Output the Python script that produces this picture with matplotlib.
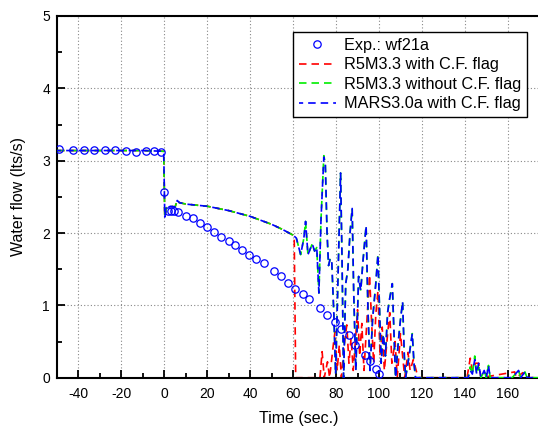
import matplotlib
matplotlib.use("Agg")
import matplotlib.pyplot as plt
from matplotlib.ticker import MultipleLocator

plt.rcParams['font.family'] = ['Liberation Sans', 'DejaVu Sans']
plt.rcParams['axes.unicode_minus'] = False

# Experimental data
exp_t = [-49, -42.4, -37.6, -32.8, -27.8, -23, -17.9, -13.2, -8.5, -5, -1.5, 0,
         1.9, 3.3, 4.7, 6.4, 10.1, 13.2, 16.6, 19.7, 23.2, 26.3, 30, 33.1, 36.2,
         39.3, 42.8, 46.2, 51.2, 54.5, 57.8, 61.1, 64.4, 67.5, 72.3, 75.9, 79.3,
         82.4, 85.8, 88.9, 93.7, 96, 98.5, 100]
exp_y = [3.16, 3.15, 3.15, 3.15, 3.15, 3.15, 3.14, 3.12, 3.14, 3.14, 3.12, 2.57,
         2.31, 2.31, 2.31, 2.29, 2.24, 2.21, 2.14, 2.08, 2.015, 1.95, 1.89, 1.83,
         1.76, 1.70, 1.64, 1.58, 1.48, 1.41, 1.31, 1.23, 1.16, 1.09, 0.96, 0.86,
         0.77, 0.68, 0.59, 0.45, 0.31, 0.23, 0.12, 0.05]

# Common early transient shared by all codes
common_t = [-50, -40, -30, -20, -10, -0.3, 0, 0.2, 1, 3, 5, 6, 7, 10, 20, 30, 40,
            50, 55, 60]
common_y = [3.14, 3.14, 3.14, 3.14, 3.14, 3.13, 2.6, 2.22, 2.35, 2.37, 2.36, 2.45,
            2.42, 2.40, 2.37, 2.31, 2.23, 2.12, 2.05, 1.97]

# R5M3.3 with C.F. flag (after t = 60 s)
red_t = [60.5, 61.2, 72.5, 73.5, 74.5, 76, 77, 78.5, 79.5, 80.5, 81.5, 82.5, 84,
         85, 86, 87, 88, 89, 90, 91, 92, 93, 94, 95.6, 96.5, 97.5, 98.5, 99.5,
         100.5, 101.5, 102.5, 104, 105, 106, 107.5, 108.5, 110, 111, 112, 113.5,
         114.5, 116, 117.5, 118.5, 141, 142.5, 143.5, 145, 146.4, 147.5, 163.2,
         164, 167, 168, 175]
red_y = [1.95, 0.0, 0.0, 0.36, 0.0, 0.22, 0.0, 0.4, 0.64, 0.1, 0.45, 0.0, 0.5,
         0.73, 0.2, 0.55, 0.1, 0.5, 0.94, 0.3, 0.75, 0.1, 0.6, 1.42, 0.8, 0.2,
         0.87, 1.2, 0.3, 0.7, 0.1, 0.6, 0.9, 0.2, 0.5, 0.0, 0.61, 0.3, 0.0, 0.35,
         0.1, 0.25, 0.08, 0.0, 0.0, 0.27, 0.1, 0.2, 0.2, 0.0, 0.08, 0.0, 0.07,
         0.0, 0.0]

# R5M3.3 without C.F. flag (after t = 60 s)
green_t = [61.5, 63.5, 65, 65.8, 66.9, 68.9, 70, 71, 72, 73, 74.3, 75, 75.8, 76.5,
           77.3, 78, 79, 79.8, 81, 82.1, 82.8, 83.5, 84.5, 85.5, 86.5, 87.5, 88.2,
           89.2, 90.5, 91.5, 92.5, 94, 94.8, 95.8, 97, 98.5, 99.5, 100.3, 101,
           102, 103, 104, 105, 106.2, 107, 107.7, 109, 110, 111, 111.8, 112.4,
           114, 115.5, 116.3, 117, 141.5, 142.5, 143.5, 144.6, 145.5, 146.4,
           147.5, 149, 150, 151, 151.8, 162, 163.5, 165, 166, 168, 169, 175]
green_y = [1.93, 1.70, 1.93, 2.16, 1.70, 1.85, 1.75, 1.80, 1.17, 2.2, 3.07, 2.95,
           2.0, 1.55, 1.65, 1.6, 0.85, 0.05, 1.5, 2.83, 1.6, 0.0, 1.3, 1.5, 2.0,
           2.34, 1.2, 0.1, 1.4, 1.2, 1.6, 2.10, 1.0, 0.1, 0.8, 1.3, 1.7, 0.9, 0.2,
           0.6, 0.3, 0.9, 1.1, 1.3, 0.6, 0.0, 0.5, 0.8, 1.05, 0.3, 0.0, 0.3, 0.61,
           0.2, 0.0, 0.0, 0.15, 0.05, 0.30, 0.05, 0.15, 0.0, 0.1, 0.0, 0.17, 0.0,
           0.0, 0.05, 0.1, 0.0, 0.08, 0.0, 0.0]

# MARS3.0a with C.F. flag (after t = 60 s)
blue_t = list(green_t)
blue_y = [1.93, 1.70, 1.93, 2.16, 1.70, 1.85, 1.75, 1.80, 1.17, 2.2, 3.05, 2.95,
          2.0, 1.55, 1.65, 1.6, 0.85, 0.05, 1.5, 2.83, 1.6, 0.0, 1.3, 1.5, 2.0,
          2.34, 1.2, 0.1, 1.4, 1.2, 1.6, 2.10, 1.0, 0.1, 0.8, 1.3, 1.7, 0.9, 0.2,
          0.6, 0.3, 0.9, 1.1, 1.3, 0.6, 0.0, 0.5, 0.8, 1.05, 0.3, 0.0, 0.3, 0.61,
          0.2, 0.0, 0.0, 0.1, 0.05, 0.25, 0.05, 0.2, 0.0, 0.1, 0.0, 0.17, 0.0,
          0.0, 0.05, 0.1, 0.0, 0.08, 0.0, 0.0]

x_ticks = [-40, -20, 0, 20, 40, 60, 80, 100, 120, 140, 160]
y_ticks = [0, 1, 2, 3, 4, 5]

fig = plt.figure(figsize=(5.38, 4.30), dpi=100)
ax = fig.add_axes([57 / 538, 52.3 / 430, 483 / 538, 361.7 / 430])

dash = (4.5, 3.0)
lw = 1.2
ax.plot(common_t + red_t, common_y + red_y, color='#ff0000', lw=lw,
        linestyle=(0, dash), label='R5M3.3 with C.F. flag', zorder=2)
ax.plot(common_t + green_t, common_y + green_y, color='#00ee00', lw=lw,
        linestyle=(0, dash), label='R5M3.3 without C.F. flag', zorder=3)
ax.plot(common_t + blue_t, common_y + blue_y, color='#0000ff', lw=lw,
        linestyle=(2.0, dash), label='MARS3.0a with C.F. flag', zorder=4)
ax.plot(exp_t, exp_y, linestyle='none', marker='o', ms=5.3, mfc='none',
        mec='#0000ff', mew=0.9, label='Exp.: wf21a', zorder=5)

ax.set_xlim(-50, 175)
ax.set_ylim(0, 5)
ax.set_xticks(x_ticks)
ax.set_yticks(y_ticks)
ax.xaxis.set_minor_locator(MultipleLocator(10))
ax.yaxis.set_minor_locator(MultipleLocator(0.5))
ax.tick_params(which='major', direction='in', length=6, width=1.3,
               labelsize=10, pad=7)
ax.tick_params(which='minor', direction='in', length=3.5, width=1.3)
ax.tick_params(axis='y', which='major', pad=5)
ax.grid(True, which='major', linestyle=(0, (1, 2)), color='#888888', lw=0.8)
for s in ax.spines.values():
    s.set_linewidth(1.5)

ax.set_xlabel('Time (sec.)', fontsize=11.5, labelpad=7)
ax.set_ylabel('Water flow (lts/s)', fontsize=11.5, labelpad=12)

h, l = ax.get_legend_handles_labels()
order = [3, 0, 1, 2]
leg = ax.legend([h[i] for i in order], [l[i] for i in order],
                loc='upper right', bbox_to_anchor=(527 / 538, 1 - 32 / 430),
                bbox_transform=fig.transFigure, borderaxespad=0,
                fontsize=11.7, frameon=True, fancybox=False, edgecolor='black',
                framealpha=1, handlelength=2.3, handletextpad=0.5,
                labelspacing=0.28, borderpad=0.35)
leg.get_frame().set_linewidth(1.0)

fig.savefig('out.png', dpi=100)
